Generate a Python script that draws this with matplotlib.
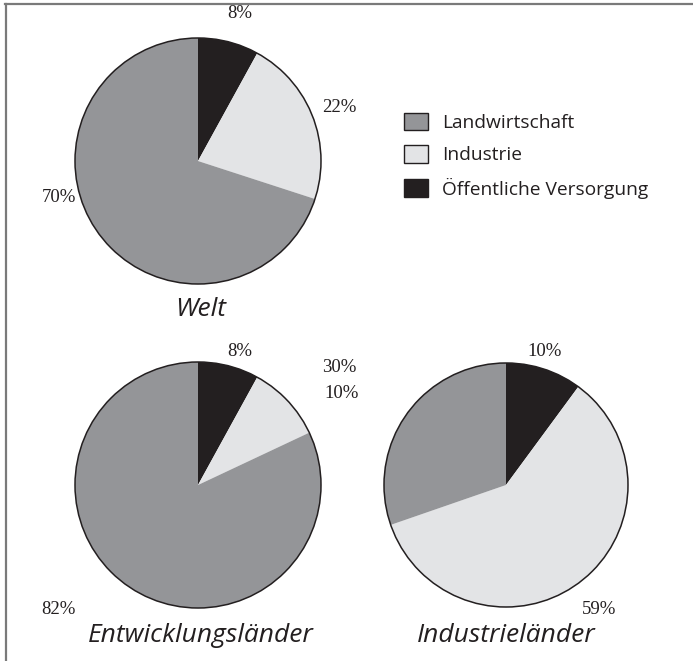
import matplotlib.pyplot as plt
from matplotlib.patches import Patch, Circle
from matplotlib.lines import Line2D

# categories in drawing order (clockwise from 12 o'clock)
categories = ['Öffentliche Versorgung', 'Industrie', 'Landwirtschaft']
colors = ['#231f20', '#e3e4e6', '#949598']

titles = ['Welt', 'Entwicklungsländer', 'Industrieländer']
welt = [8, 22, 70]
entwicklung = [8, 10, 82]
industrie = [10, 59, 30]
values = [welt, entwicklung, industrie]

# pie layout in pixel coords (y up), radius in px
centers = [(198, 500), (198, 176), (506, 176)]
radii = [123, 123, 122]
title_pos = [(201, 351), (201, 25), (506, 25)]
# label positions (x, y, ha) per slice
label_pos = [
    [(240, 648, 'center'), (322, 554, 'left'), (76, 464, 'right')],
    [(240, 309, 'center'), (324, 267, 'left'), (76, 51, 'right')],
    [(545, 309, 'center'), (599, 51, 'center'), (356, 294, 'right')],
]

fig = plt.figure(figsize=(6.93, 6.61), dpi=100)
ax = fig.add_axes([0, 0, 1, 1])
ax.set_xlim(0, 693)
ax.set_ylim(0, 661)
ax.set_aspect('equal')
ax.axis('off')

for vals, c, r, tpos, lpos, title in zip(values, centers, radii, title_pos, label_pos, titles):
    ax.pie(vals, colors=colors, startangle=90, counterclock=False,
           center=c, radius=r, normalize=True,
           wedgeprops=dict(linewidth=0))
    ax.add_patch(Circle(c, r, fill=False, edgecolor='#231f20', linewidth=1.1))
    for v, (lx, ly, ha) in zip(vals, lpos):
        ax.text(lx, ly, f'{v}%', ha=ha, va='center', fontsize=13.5,
                family='Liberation Serif', color='#231f20')
    ax.text(tpos[0], tpos[1], title, ha='center', va='center', fontsize=19,
            style='italic', family='Open Sans', color='#231f20')

ax.set_xlim(0, 693)
ax.set_ylim(0, 661)

handles = [Patch(facecolor=colors[i], edgecolor='#231f20', linewidth=1.0) for i in [2, 1, 0]]
labels = [categories[i] for i in [2, 1, 0]]
ax.legend(handles, labels, loc='upper left', bbox_to_anchor=(394, 558),
          bbox_transform=ax.transData, frameon=False,
          prop={'family': 'Open Sans', 'size': 13.8},
          handlelength=1.25, handleheight=1.05, handletextpad=0.75,
          labelspacing=0.68, borderpad=0, labelcolor='#231f20')

# frame lines: top and left only
fig.add_artist(Line2D([5 / 693, 1], [1 - 4 / 661, 1 - 4 / 661], transform=fig.transFigure,
                      color='#7a7a7a', linewidth=1.6))
fig.add_artist(Line2D([5.5 / 693, 5.5 / 693], [0, 1 - 4 / 661], transform=fig.transFigure,
                      color='#7a7a7a', linewidth=1.6))

fig.savefig('out.png', dpi=100)
